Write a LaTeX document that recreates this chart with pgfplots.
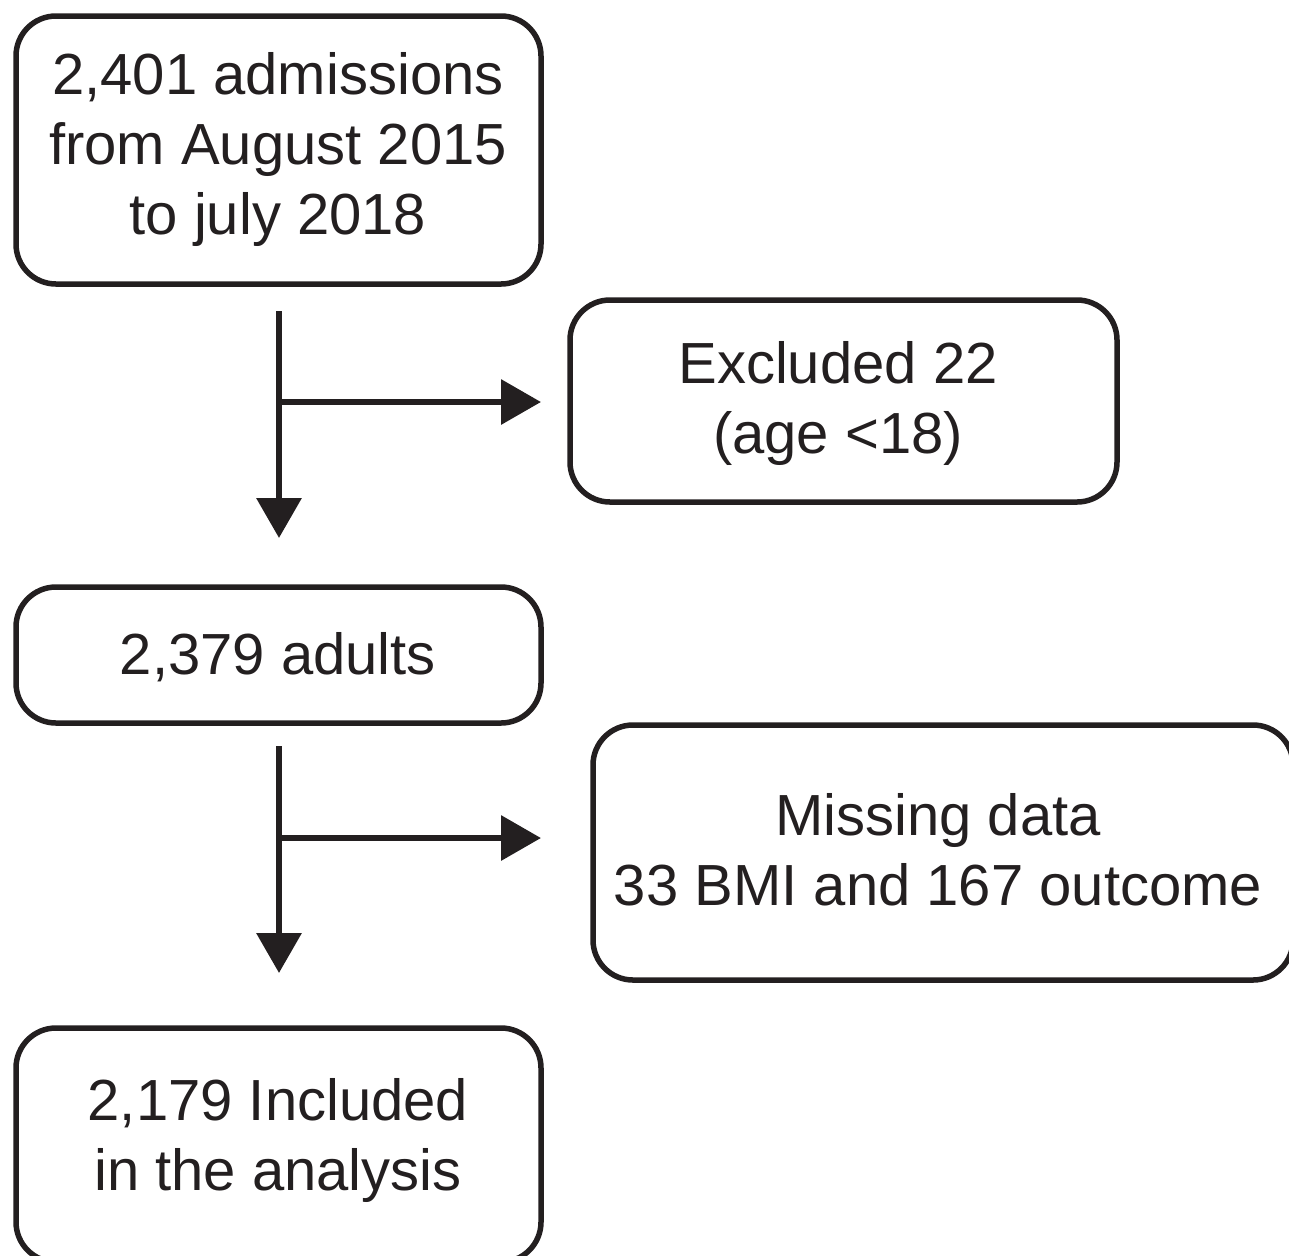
\documentclass[border=0pt]{standalone}
\usepackage{pgfplots}
\pgfplotsset{compat=1.18}
\usepackage{fontspec}
\setmainfont{Liberation Sans}
\usetikzlibrary{arrows.meta}
\definecolor{ink}{HTML}{231F20}
\begin{document}
\begin{tikzpicture}
\begin{axis}[
  width=644.5pt, height=627.5pt, scale only axis,
  xmin=0, xmax=1289, ymin=0, ymax=1255, y dir=reverse,
  hide axis, clip=true,
]
% boxes
\draw[ink, line width=2.75pt, rounded corners=20pt] (axis cs:16,16) rectangle (axis cs:541,284);
\draw[ink, line width=2.75pt, rounded corners=20pt] (axis cs:570,300) rectangle (axis cs:1117,502);
\draw[ink, line width=2.75pt, rounded corners=20pt] (axis cs:16,587) rectangle (axis cs:541,723);
\draw[ink, line width=2.75pt, rounded corners=20pt] (axis cs:593,725) rectangle (axis cs:1293,980);
\draw[ink, line width=2.75pt, rounded corners=20pt] (axis cs:16,1028) rectangle (axis cs:541,1262);
% arrows
\addplot[ink, line width=3.25pt, -{Triangle[width=22pt,length=20pt]}] coordinates {(279,311) (279,538)};
\addplot[ink, line width=3.25pt, -{Triangle[width=22pt,length=20pt]}] coordinates {(279,402) (541,402)};
\addplot[ink, line width=3.25pt, -{Triangle[width=22pt,length=20pt]}] coordinates {(279,746) (279,973)};
\addplot[ink, line width=3.25pt, -{Triangle[width=22pt,length=20pt]}] coordinates {(279,838) (541,838)};
% text
\tikzset{t/.style={anchor=base, inner sep=0pt, text=ink, font=\fontsize{29}{35}\selectfont}}
\node[t] at (axis cs:278,94) {2,401 admissions};
\node[t] at (axis cs:278,164) {from August 2015};
\node[t] at (axis cs:278,234) {to july 2018};
\node[t] at (axis cs:838,383) {Excluded 22};
\node[t] at (axis cs:838,453) {(age {<}18)};
\node[t] at (axis cs:278,674) {2,379 adults};
\node[t] at (axis cs:938,835) {Missing data};
\node[t] at (axis cs:938,905) {33 BMI and 167 outcome};
\node[t] at (axis cs:278,1120) {2,179 Included};
\node[t] at (axis cs:278,1190) {in the analysis};
\end{axis}
\pgfresetboundingbox
\useasboundingbox (current axis.south west) rectangle (current axis.north east);
\end{tikzpicture}
\end{document}
